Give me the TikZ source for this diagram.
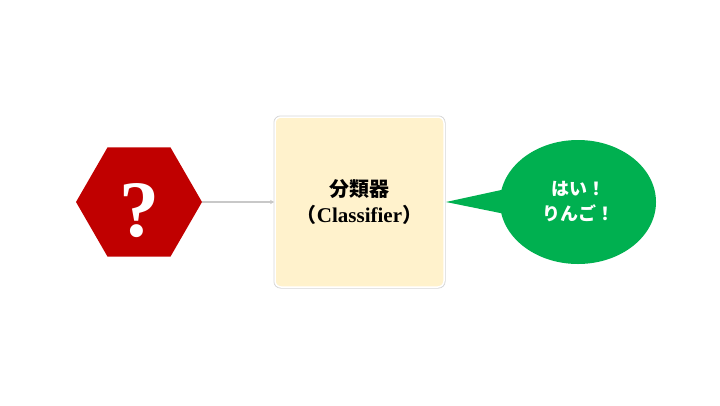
\documentclass[tikz,border=0pt]{standalone}
\usepackage{fontspec}
\setmainfont{Liberation Serif}
\newfontfamily\cjk{Noto Sans CJK JP}
\usetikzlibrary{shapes.geometric,arrows.meta}
\definecolor{hexred}{HTML}{C00000}
\definecolor{boxfill}{HTML}{FFF2CC}
\definecolor{bubgreen}{HTML}{00B050}
\definecolor{arrowgray}{HTML}{C8C8C8}
\tikzset{
  hexnode/.style={regular polygon, regular polygon sides=6, minimum size=126pt, inner sep=0pt, fill=hexred, text=white, font=\bfseries\fontsize{80}{80}\selectfont},
  classbox/.style={rectangle, rounded corners=6pt, minimum width=169pt, minimum height=170pt, fill=boxfill, draw=white, line width=1.5pt, align=center, font=\bfseries\fontsize{20}{26}\selectfont},
  boxshadow/.style={rectangle, rounded corners=7pt, minimum width=172pt, minimum height=173pt, fill=black!16},
  bubble/.style={ellipse, minimum width=156pt, minimum height=124pt, inner sep=0pt, fill=bubgreen, text=white, align=center, font=\cjk\bfseries\fontsize{18}{25}\selectfont},
  link/.style={draw=arrowgray, line width=1.2pt, -{Triangle[length=4pt,width=4pt]}}
}
\begin{document}
\begin{tikzpicture}[x=1pt,y=-1pt]
\useasboundingbox (0,0) rectangle (720,405);
\node[hexnode] (hex) at (139,202) {\makebox[0pt]{\raisebox{-34pt}[0pt][0pt]{?}}};
\node[boxshadow] (shadow) at (359.5,202) {};
\node[classbox] (box) at (359.5,202) {{\cjk 分類器}\\{\cjk （}{\fontsize{21}{26}\selectfont Classifier}{\cjk ）}};
\node[bubble] (bub) at (578,202) {はい！\\りんご！};
\coordinate (tip) at (446,202);
\coordinate (tailtop) at (515,187);
\coordinate (tailbot) at (515,216);
\fill[bubgreen] (tip) -- (tailtop) -- (tailbot) -- cycle;
\draw[link] (hex.east) -- (box.west);
\end{tikzpicture}
\end{document}
